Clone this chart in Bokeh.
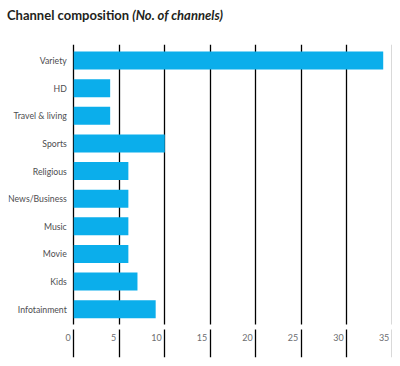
from bokeh.plotting import figure
from bokeh.models import ColumnDataSource, Range1d, FixedTicker, BoxAnnotation, Div
from bokeh.layouts import column
from bokeh.core.properties import value
from bokeh.embed import file_html
from bokeh.resources import INLINE

# Data (top to bottom as in the chart)
categories = ["Variety", "HD", "Travel & living", "Sports", "Religious",
              "News/Business", "Music", "Movie", "Kids", "Infotainment"]
channels = [34, 4, 4, 10, 6, 6, 6, 6, 7, 9]
x_ticks = [0, 5, 10, 15, 20, 25, 30, 35]
x_tick_labels = ["0", "5", "10", "15", "20", "25", "30", "35"]

n = len(categories)
ypos = [n - 1 - i for i in range(n)]  # Variety at top

src = ColumnDataSource(dict(y=ypos, v=channels, cat=categories,
                            zero=[0] * n))

title = Div(text='<span style="font-family:Lato;font-weight:bold;font-size:13px;'
                 'color:#231f20;white-space:nowrap">Channel composition '
                 '<i>(No. of channels)</i></span>',
            width=384, height=30, margin=(6, 0, 0, 7))

p = figure(width=384, height=322, output_backend="svg", toolbar_location=None,
           x_range=Range1d(-7.17, 35.02), y_range=Range1d(-1.75, 9.58),
           min_border_left=0, min_border_right=0, min_border_top=8,
           min_border_bottom=1, margin=(0, 0, 0, 8))
p.outline_line_color = None
p.background_fill_color = "white"
p.xaxis.visible = False
p.yaxis.visible = False

# grid (vertical black lines)
p.xgrid.ticker = FixedTicker(ticks=x_ticks)
p.xgrid.grid_line_color = "black"
p.xgrid.grid_line_width = 1.3
p.ygrid.grid_line_color = None

p.hbar(y="y", right="v", left=0, height=0.65, source=src,
       fill_color="#0BAEEB", line_color=None)

# white gap separating grid from tick area
p.add_layout(BoxAnnotation(bottom=-0.74, top=-0.555, fill_color="white",
                           fill_alpha=1, line_color=None))

# category labels
p.text(x="zero", y="y", text="cat", source=src, text_align="right",
       text_baseline="middle", x_offset=-7, text_font=value("Lato"),
       text_font_size="8.7px", text_color="#4d4d4f")

# tick labels (left of each tick line)
tsrc = ColumnDataSource(dict(x=x_ticks, y=[-1.03] * len(x_ticks), t=x_tick_labels))
p.text(x="x", y="y", text="t", source=tsrc, text_align="right",
       text_baseline="middle", x_offset=-3, text_font=value("Lato"),
       text_font_size="9px", text_color="#6d6e71")

layout = column(title, p, spacing=0)
open("out.html", "w").write(file_html(layout, INLINE))
